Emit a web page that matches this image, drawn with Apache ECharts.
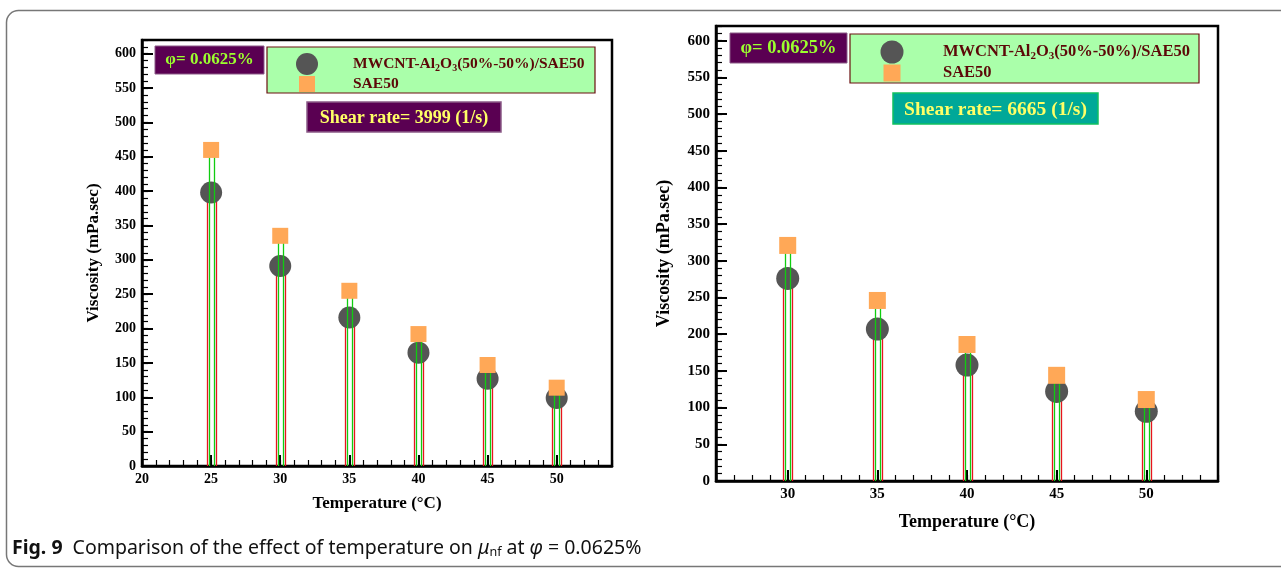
<!DOCTYPE html>
<html>
<head>
<meta charset="utf-8">
<script src="https://cdn.jsdelivr.net/npm/echarts@6/dist/echarts.min.js"></script>
<style>
  html, body { margin: 0; padding: 0; background: #fff; }
  #chart { width: 1281px; height: 569px; }
</style>
</head>
<body>
<div id="chart"></div>
<script>
// panel 1: shear rate 3999 1/s
const leftTemps = [25, 30, 35, 40, 45, 50];
const leftHybrid = [398, 291, 216, 165, 127, 99];
const leftBase = [460, 335, 255, 192, 147, 114];
const leftXLabels = [20, 25, 30, 35, 40, 45, 50];
const leftXMajor = [25, 30, 35, 40, 45, 50];

// panel 2: shear rate 6665 1/s
const rightTemps = [30, 35, 40, 45, 50];
const rightHybrid = [276, 207, 158, 122, 95];
const rightBase = [321, 246, 186, 144, 111];
const rightXLabels = [30, 35, 40, 45, 50];

const yMajor = [0, 50, 100, 150, 200, 250, 300, 350, 400, 450, 500, 550, 600];

const SERIF = '"Liberation Serif", "Times New Roman", serif';
const chart = echarts.init(document.getElementById('chart'));

const pair = (xs, ys) => xs.map((x, i) => [x, ys[i]]);

// two thin vertical lines from 0 up to the value (hollow drop bar)
function dropBar(color, w) {
  return function (params, api) {
    const top = api.coord([api.value(0), api.value(1)]);
    const base = api.coord([api.value(0), 0]);
    const xl = Math.round(top[0] - w / 2) + 0.5;
    const xr = xl + w;
    return {
      type: 'group',
      children: [
        { type: 'line', shape: { x1: xl, y1: top[1], x2: xl, y2: base[1] },
          style: { stroke: color, lineWidth: 1.3 } },
        { type: 'line', shape: { x1: xr, y1: top[1], x2: xr, y2: base[1] },
          style: { stroke: color, lineWidth: 1.3 } }
      ]
    };
  };
}

function xAxes(grid, min, max, labels, major, fs, nameGap) {
  return [
    {
      type: 'value', gridIndex: grid, min: min, max: max, interval: 1,
      axisLine: { lineStyle: { color: '#000', width: 2.5 } },
      axisTick: { inside: true, length: 6, lineStyle: { color: '#000', width: 1.2 } },
      axisLabel: {
        margin: 6, color: '#000', fontFamily: SERIF, fontWeight: 'bold', fontSize: fs,
        formatter: v => labels.indexOf(v) >= 0 ? String(v) : ''
      },
      splitLine: { show: false },
      name: 'Temperature (°C)', nameLocation: 'middle', nameGap: nameGap,
      nameTextStyle: { color: '#000', fontFamily: SERIF, fontWeight: 'bold', fontSize: fs + 3 }
    },
    {
      type: 'value', gridIndex: grid, min: min, max: max, position: 'bottom',
      axisLine: { show: false },
      axisTick: { inside: true, length: 11, customValues: major, lineStyle: { color: '#000', width: 2 } },
      axisLabel: { show: false },
      splitLine: { show: false }
    }
  ];
}

function yAxes(grid, fs, nameGap) {
  return [
    {
      type: 'value', gridIndex: grid, min: 0, max: 620, interval: 10,
      axisLine: { lineStyle: { color: '#000', width: 2.5 } },
      axisTick: { inside: true, length: 6, lineStyle: { color: '#000', width: 1.2 } },
      axisLabel: {
        margin: 6, color: '#000', fontFamily: SERIF, fontWeight: 'bold', fontSize: fs,
        formatter: v => yMajor.indexOf(v) >= 0 ? String(v) : ''
      },
      splitLine: { show: false },
      name: 'Viscosity (mPa.sec)', nameLocation: 'middle', nameGap: nameGap,
      nameTextStyle: { color: '#000', fontFamily: SERIF, fontWeight: 'bold', fontSize: fs + 3 }
    },
    {
      type: 'value', gridIndex: grid, min: 0, max: 620, position: 'left',
      axisLine: { show: false },
      axisTick: { inside: true, length: 11, customValues: yMajor, lineStyle: { color: '#000', width: 2 } },
      axisLabel: { show: false },
      splitLine: { show: false }
    }
  ];
}

function panelSeries(xa, ya, temps, hybrid, base, circ, sq) {
  return [
    { type: 'custom', xAxisIndex: xa, yAxisIndex: ya, z: 2, renderItem: dropBar('#e8141e', 9),
      itemStyle: { color: '#e8141e' }, data: pair(temps, hybrid) },
    { type: 'scatter', xAxisIndex: xa, yAxisIndex: ya, z: 3, symbol: 'circle', symbolSize: circ,
      itemStyle: { color: '#555555', opacity: 1 }, data: pair(temps, hybrid) },
    { type: 'custom', xAxisIndex: xa, yAxisIndex: ya, z: 4, renderItem: dropBar('#10cc10', 5),
      itemStyle: { color: '#10cc10' }, data: pair(temps, base) },
    { type: 'scatter', xAxisIndex: xa, yAxisIndex: ya, z: 5, symbol: 'rect', symbolSize: sq,
      itemStyle: { color: '#ffa857', opacity: 1 }, data: pair(temps, base) }
  ];
}

function boxes(o) {
  const legendRich = {
    m: { fontFamily: SERIF, fontWeight: 'bold', fontSize: o.lf, fill: '#5c0808', lineHeight: o.lf + 3 },
    s: { fontFamily: SERIF, fontWeight: 'bold', fontSize: Math.round(o.lf * 0.65), fill: '#5c0808',
         verticalAlign: 'bottom', lineHeight: Math.round(o.lf * 0.65) }
  };
  return [
    { type: 'rect', z: 10, shape: o.phi, style: { fill: '#5a0052', stroke: '#8a5a86', lineWidth: 1 } },
    { type: 'text', z: 11, x: o.phi.x + o.phi.width / 2, y: o.phi.y + o.phi.height / 2,
      style: { text: 'φ= 0.0625%', align: 'center', verticalAlign: 'middle',
               font: 'bold ' + o.pf + 'px ' + SERIF, fill: '#9cff2e' } },
    { type: 'rect', z: 10, shape: o.leg, style: { fill: '#aaffaa', stroke: '#6a1010', lineWidth: 1.2 } },
    { type: 'circle', z: 11, shape: { cx: o.mx, cy: o.cy1, r: o.circ / 2 }, style: { fill: '#555555' } },
    { type: 'rect', z: 11, shape: { x: o.mx - o.sq / 2, y: o.cy2 - o.sq / 2, width: o.sq, height: o.sq }, style: { fill: '#ffa857' } },
    { type: 'text', z: 11, x: o.tx, y: o.cy1,
      style: { text: '{m|MWCNT-Al}{s|2}{m|O}{s|3}{m|(50%-50%)/SAE50}', rich: legendRich, verticalAlign: 'middle' } },
    { type: 'text', z: 11, x: o.tx, y: o.cy2,
      style: { text: '{m|SAE50}', rich: legendRich, verticalAlign: 'middle' } },
    { type: 'rect', z: 10, shape: o.sh, style: { fill: o.shFill, stroke: o.shStroke, lineWidth: 1.5 } },
    { type: 'text', z: 11, x: o.sh.x + o.sh.width / 2, y: o.sh.y + o.sh.height / 2 + 1,
      style: { text: o.shText, align: 'center', verticalAlign: 'middle',
               font: 'bold ' + o.sf + 'px ' + SERIF, fill: '#ffff66' } }
  ];
}

const CAP = '"Noto Sans", sans-serif';

const option = {
  animation: false,
  grid: [
    { left: 142, top: 40, width: 470, height: 426, show: true, borderColor: '#000', borderWidth: 2.5, backgroundColor: 'transparent' },
    { left: 716, top: 26, width: 502, height: 455, show: true, borderColor: '#000', borderWidth: 2.5, backgroundColor: 'transparent' }
  ],
  xAxis: [].concat(
    xAxes(0, 20, 54, leftXLabels, leftXMajor, 14, 29),
    xAxes(1, 26, 54, rightXLabels, rightXLabels, 15, 32)
  ),
  yAxis: [].concat(yAxes(0, 14, 40), yAxes(1, 15, 43)),
  series: [].concat(
    panelSeries(0, 0, leftTemps, leftHybrid, leftBase, 22, 16),
    panelSeries(2, 2, rightTemps, rightHybrid, rightBase, 23, 17)
  ),
  graphic: [].concat(
    [
      { type: 'rect', z: 0, shape: { x: 6.5, y: 10.5, width: 1320, height: 556, r: 12 },
        style: { fill: 'none', stroke: '#777', lineWidth: 1.5 } },
      { type: 'text', z: 11, x: 12, y: 548,
        style: {
          text: '{b|Fig. 9}   {n|Comparison of the effect of temperature on }{i|μ}{s|nf}{n| at }{i|φ}{n| = 0.0625%}',
          verticalAlign: 'middle',
          rich: {
            b: { fontFamily: CAP, fontWeight: 'bold', fontSize: 19.5, fill: '#111', lineHeight: 22 },
            n: { fontFamily: CAP, fontSize: 19.5, fill: '#111', lineHeight: 22 },
            i: { fontFamily: CAP, fontStyle: 'italic', fontSize: 19.5, fill: '#111', lineHeight: 22 },
            s: { fontFamily: CAP, fontSize: 12.5, fill: '#111', verticalAlign: 'bottom', lineHeight: 12 }
          }
        } }
    ],
    boxes({
      phi: { x: 155, y: 46, width: 109, height: 28 }, pf: 17,
      leg: { x: 267, y: 47, width: 328, height: 46 }, lf: 15.5,
      mx: 307, cy1: 64, cy2: 84, circ: 22, sq: 16, tx: 353,
      sh: { x: 307, y: 102, width: 194, height: 30 }, sf: 18,
      shText: 'Shear rate= 3999 (1/s)', shFill: '#5a0052', shStroke: '#8a5a86'
    }),
    boxes({
      phi: { x: 730, y: 33, width: 117, height: 30 }, pf: 18.5,
      leg: { x: 850, y: 34, width: 349, height: 49 }, lf: 16.5,
      mx: 892, cy1: 52, cy2: 73, circ: 23, sq: 17, tx: 943,
      sh: { x: 893, y: 93, width: 205, height: 31 }, sf: 19.5,
      shText: 'Shear rate= 6665 (1/s)', shFill: '#00a898', shStroke: '#10c060'
    })
  )
};

chart.setOption(option);
</script>
</body>
</html>
